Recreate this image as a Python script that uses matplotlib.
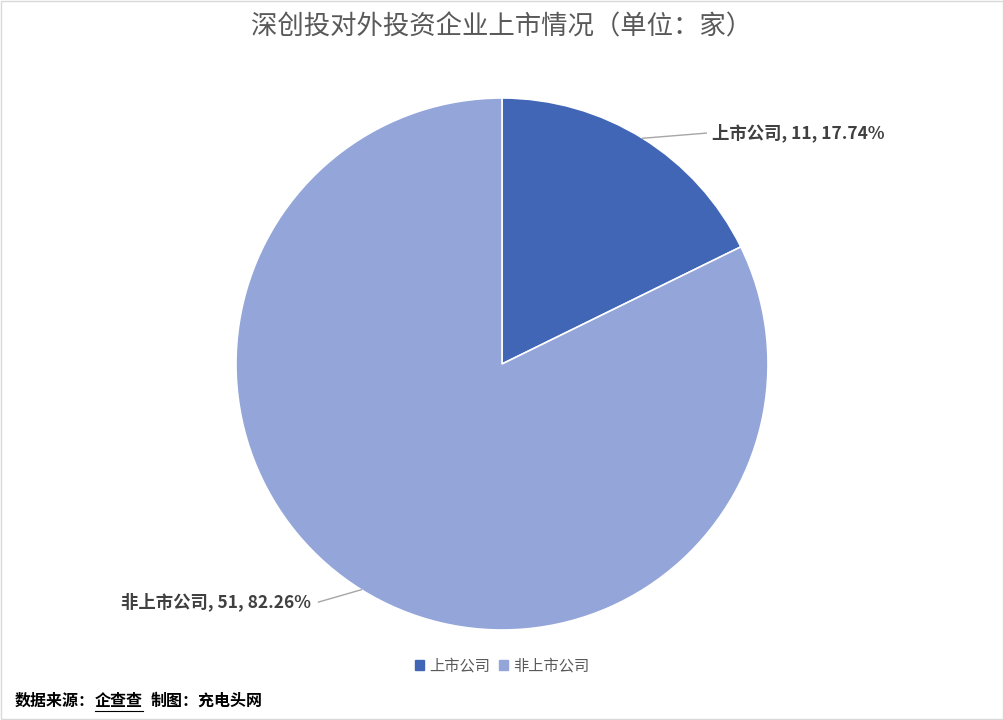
import matplotlib.pyplot as plt
from matplotlib.patches import Patch, Rectangle
from matplotlib.lines import Line2D
import numpy as np

plt.rcParams['font.family'] = ['Noto Sans CJK SC', 'DejaVu Sans']

# data
categories = ['上市公司', '非上市公司']
counts = [11, 51]
percents = ['17.74%', '82.26%']
colors = ['#4066B5', '#93A5D9']

W, H = 1004, 720
fig = plt.figure(figsize=(W / 100, H / 100), dpi=100)

# pie centre / radius in pixels
cx, cy, r = 502, 364, 266
ax = fig.add_axes([(cx - r) / W, (H - cy - r) / H, 2 * r / W, 2 * r / H])
wedges, _ = ax.pie(counts, colors=colors, startangle=90, counterclock=False,
                   radius=1, wedgeprops=dict(edgecolor='white', linewidth=1.2))
ax.set_xlim(-1, 1)
ax.set_ylim(-1, 1)
ax.set_aspect('equal')
ax.axis('off')

# data labels with leader lines (text anchor, leader end)
label_pos = [(0.79, 0.868, 'left', 0.768), (-0.72, -0.895, 'right', -0.69)]
for w, cat, n, pct, (tx, ty, ha, lx) in zip(wedges, categories, counts, percents, label_pos):
    ang = np.deg2rad((w.theta1 + w.theta2) / 2)
    x0, y0 = np.cos(ang), np.sin(ang)
    ax.plot([x0, lx], [y0, ty], color='#A6A6A6', lw=1, clip_on=False)
    ax.text(tx, ty, f'{cat}, {n}, {pct}', ha=ha, va='center', fontsize=12.5,
            fontweight='bold', color='#404040', clip_on=False)

fig.text(0.5, 1 - 27 / H, '深创投对外投资企业上市情况（单位：家）', ha='center', va='center',
         fontsize=19, color='#595959')

handles = [Patch(facecolor=c, edgecolor=c) for c in colors]
fig.legend(handles, categories, loc='center', bbox_to_anchor=(0.5, 1 - 666 / H), ncol=2,
           frameon=False, fontsize=11, labelcolor='#595959', handlelength=0.6,
           handleheight=0.6, handletextpad=0.3, columnspacing=0.6)

# source note, with 企查查 underlined
fs = 11.5
em = fs * 100 / 72
x0 = 15
y_src = 1 - 701 / H
fig.text(x0 / W, y_src, '数据来源：', fontsize=fs, fontweight='bold', color='black', va='center')
fig.text((x0 + 5 * em) / W, y_src, '企查查', fontsize=fs, fontweight='bold', color='black', va='center')
fig.text((x0 + 8.5 * em) / W, y_src, '制图：充电头网', fontsize=fs, fontweight='bold', color='black', va='center')
fig.add_artist(Line2D([(x0 + 5 * em) / W, (x0 + 8 * em) / W], [1 - 711 / H, 1 - 711 / H],
                      color='black', lw=0.8))

# outer border
fig.add_artist(Rectangle((0.001, 0.001), 0.998, 0.997, transform=fig.transFigure,
                         fill=False, edgecolor='#D9D9D9', lw=1))

fig.savefig('out.png', dpi=100, facecolor='white')
